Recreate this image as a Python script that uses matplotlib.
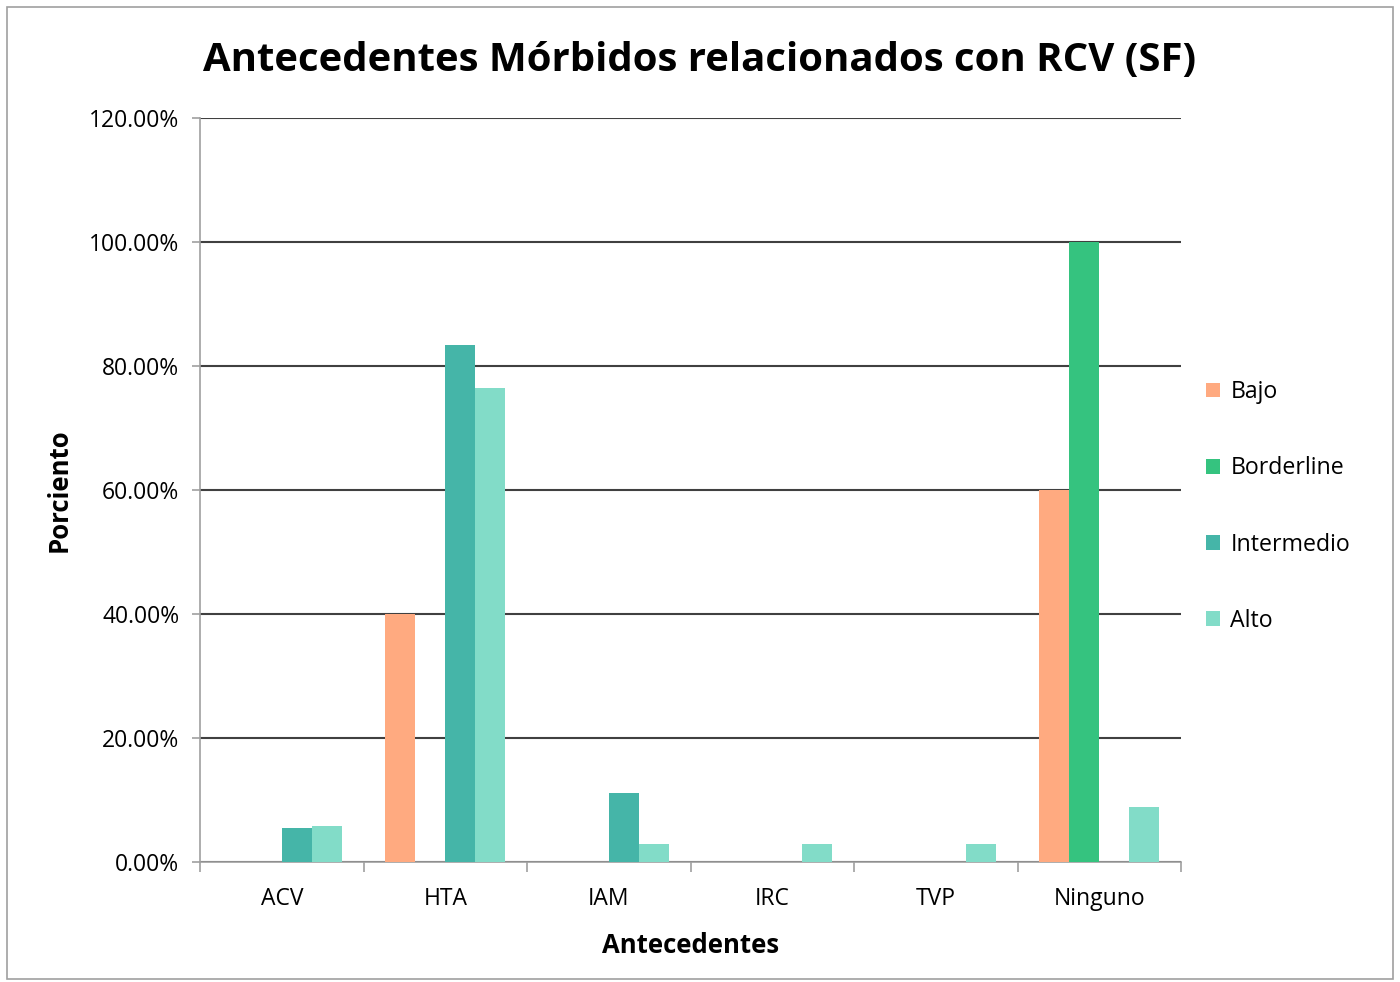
import numpy as np
import matplotlib.pyplot as plt
from matplotlib.ticker import FuncFormatter

# Data (percent)
categories = ['ACV', 'HTA', 'IAM', 'IRC', 'TVP', 'Ninguno']
series_names = ['Bajo', 'Borderline', 'Intermedio', 'Alto']
bajo = [0, 40.0, 0, 0, 0, 60.0]
borderline = [0, 0, 0, 0, 0, 100.0]
intermedio = [5.56, 83.33, 11.11, 0, 0, 0]
alto = [5.88, 76.47, 2.94, 2.94, 2.94, 8.82]
colors = ['#FFAA80', '#35C37F', '#45B5A8', '#82DCC8']

plt.rcParams['font.family'] = ['Open Sans', 'DejaVu Sans']

fig = plt.figure(figsize=(14, 9.82), dpi=100)
ax = fig.add_axes([0.1429, 0.1222, 0.7007, 0.7576])

x = np.arange(len(categories))
w = 0.1835
series = [bajo, borderline, intermedio, alto]
for i, (vals, name, c) in enumerate(zip(series, series_names, colors)):
    ax.bar(x + (i - 1.5) * w, vals, width=w, color=c, label=name, zorder=3)

ax.set_xlim(-0.5, len(categories) - 0.5)
ax.set_ylim(0, 120)
ax.set_yticks(np.arange(0, 121, 20))
ax.yaxis.set_major_formatter(FuncFormatter(lambda v, p: f'{v:.2f}%'))
ax.grid(axis='y', color='#404040', linewidth=1.5, zorder=0)

ax.set_xticks(x)
ax.set_xticklabels(categories)
ax.set_xticks(np.arange(-0.5, len(categories), 1), minor=True)
ax.tick_params(axis='x', which='major', length=0, pad=18, labelsize=16.5)
ax.tick_params(axis='x', which='minor', length=7, color='#A0A0A0', width=1.2)
ax.tick_params(axis='y', length=6, color='#A0A0A0', width=1.2, labelsize=16.5, pad=9)

for s in ['top', 'right']:
    ax.spines[s].set_visible(False)
for s in ['left', 'bottom']:
    ax.spines[s].set_color('#A0A0A0')
    ax.spines[s].set_linewidth(1.2)

ax.set_xlabel('Antecedentes', fontsize=18.5, fontweight='bold', labelpad=15)
ax.set_ylabel('Porciento', fontsize=18.5, fontweight='bold', labelpad=12)
fig.text(0.5, 0.938, 'Antecedentes Mórbidos relacionados con RCV (SF)',
         ha='center', va='center', fontsize=28.9, fontweight='bold')

ax.legend(loc='upper left', bbox_to_anchor=(1.016, 0.66), frameon=False,
          fontsize=16.7, handlelength=0.6, handleheight=0.6, handletextpad=0.45,
          labelspacing=2.25, borderaxespad=0)

# outer frame
fig.patches.append(plt.Rectangle((0.005, 0.003), 0.99, 0.99, transform=fig.transFigure,
                                 fill=False, edgecolor='#A0A0A0', linewidth=1.2))

fig.savefig('out.png', dpi=100)
